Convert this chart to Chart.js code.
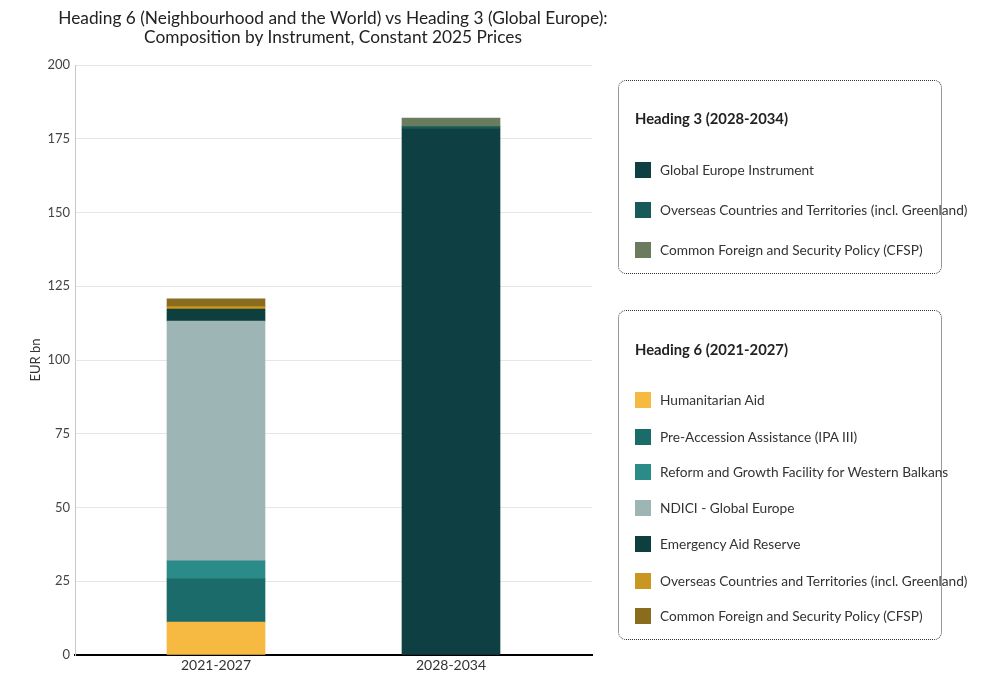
<!DOCTYPE html>
<html>
<head>
<meta charset="utf-8">
<script src="https://cdn.jsdelivr.net/npm/chart.js@4.4.1/dist/chart.umd.min.js"></script>
<style>
  html, body { margin: 0; padding: 0; background: #fff; }
  body { width: 1000px; height: 684px; position: relative; overflow: hidden; font-family: Lato, "DejaVu Sans", sans-serif; }
  #wrap { position: absolute; left: 0; top: 0; width: 1000px; height: 684px; }
  #title { position: absolute; left: 0; width: 666px; top: 8px; text-align: center; font-size: 17.3px; line-height: 19px; color: #222; }
  .box { position: absolute; left: 618px; width: 324px; border: 1.5px dotted #333; border-radius: 8px; box-sizing: border-box; }
  .box h3 { position: absolute; left: 16px; margin: 0; font-size: 14.8px; font-weight: bold; color: #222; white-space: nowrap; line-height: 18px; }
  .item { position: absolute; left: 16px; height: 18px; white-space: nowrap; font-size: 13.7px; color: #333; line-height: 18px; }
  .sw { position: absolute; left: 0; top: 1px; width: 16px; height: 16px; }
  .lab { position: absolute; left: 25px; top: 0; }
</style>
</head>
<body>
<div id="wrap"><canvas id="c" width="1000" height="684"></canvas></div>
<div id="title">Heading 6 (Neighbourhood and the World) vs Heading 3 (Global Europe):<br>Composition by Instrument, Constant 2025 Prices</div>
<div id="legend"></div>
<script>
// ---- Data ----
const categories = ['2021-2027', '2028-2034'];
const tickValues = [0, 25, 50, 75, 100, 125, 150, 175, 200];

const h6Names = ['Humanitarian Aid', 'Pre-Accession Assistance (IPA III)', 'Reform and Growth Facility for Western Balkans', 'NDICI - Global Europe', 'Emergency Aid Reserve', 'Overseas Countries and Territories (incl. Greenland)', 'Common Foreign and Security Policy (CFSP)'];
const h6Values = [11.2, 14.6, 6.1, 81.3, 4.1, 0.8, 2.6];
const h6Colors = ['#f6b942', '#1b6b6a', '#2b8b88', '#9db5b5', '#0d3f3f', '#c9961f', '#8a6c1f'];

const h3Names = ['Global Europe Instrument', 'Overseas Countries and Territories (incl. Greenland)', 'Common Foreign and Security Policy (CFSP)'];
const h3Values = [178.3, 0.8, 2.9];
const h3Colors = ['#0e4043', '#165b58', '#6b7b5e'];

// ---- Datasets ----
const datasets = [];
h6Names.forEach((n, i) => datasets.push({
  label: n, data: [{x: 0, y: h6Values[i]}], backgroundColor: h6Colors[i],
  borderWidth: 0, barThickness: 98
}));
h3Names.forEach((n, i) => datasets.push({
  label: n, data: [{x: 1, y: h3Values[i]}], backgroundColor: h3Colors[i],
  borderWidth: 0, barThickness: 98
}));

new Chart(document.getElementById('c'), {
  type: 'bar',
  data: { datasets },
  options: {
    responsive: false,
    animation: false,
    layout: { padding: { left: 24, right: 408, top: 65, bottom: 0 } },
    plugins: { legend: { display: false }, tooltip: { enabled: false }, title: { display: false } },
    scales: {
      x: {
        type: 'linear', stacked: true, min: -0.6, max: 1.6, offset: false,
        afterBuildTicks: s => { s.ticks = categories.map((c, i) => ({ value: i })); },
        afterFit: s => { s.height = 29; },
        ticks: { callback: v => categories[v], color: '#333', font: { family: 'Lato', size: 14 }, padding: 2, maxRotation: 0 },
        grid: { display: false, drawTicks: false, offset: false },
        border: { color: '#000', width: 2 }
      },
      y: {
        stacked: true, min: 0, max: 200,
        afterBuildTicks: s => { s.ticks = tickValues.map(v => ({ value: v })); },
        afterFit: s => { s.width = 51; },
        ticks: { color: '#444', font: { family: 'Lato', size: 13 }, padding: 5 },
        grid: { color: '#e6e6e6', lineWidth: 1, drawTicks: false },
        border: { color: '#c8c8c8', width: 1 },
        title: { display: true, text: 'EUR bn', color: '#333', font: { family: 'Lato', size: 13 }, padding: { top: 4, bottom: 4 } }
      }
    }
  }
});

// ---- HTML legend ----
function makeBox(top, height, heading, titleY, names, colors, ys) {
  const box = document.createElement('div');
  box.className = 'box';
  box.style.top = top + 'px';
  box.style.height = height + 'px';
  const h = document.createElement('h3');
  h.textContent = heading;
  h.style.top = (titleY - top - 10) + 'px';
  box.appendChild(h);
  names.forEach((n, i) => {
    const it = document.createElement('div');
    it.className = 'item';
    it.style.top = (ys[i] - top - 10) + 'px';
    const sw = document.createElement('div');
    sw.className = 'sw'; sw.style.background = colors[i];
    const lab = document.createElement('div');
    lab.className = 'lab'; lab.textContent = n;
    it.appendChild(sw); it.appendChild(lab);
    box.appendChild(it);
  });
  document.getElementById('legend').appendChild(box);
}
makeBox(80, 194, 'Heading 3 (2028-2034)', 118, h3Names, h3Colors, [170, 210, 250]);
makeBox(310, 330, 'Heading 6 (2021-2027)', 349, h6Names, h6Colors, [400, 437, 472, 508, 544, 581, 616]);
</script>
</body>
</html>
